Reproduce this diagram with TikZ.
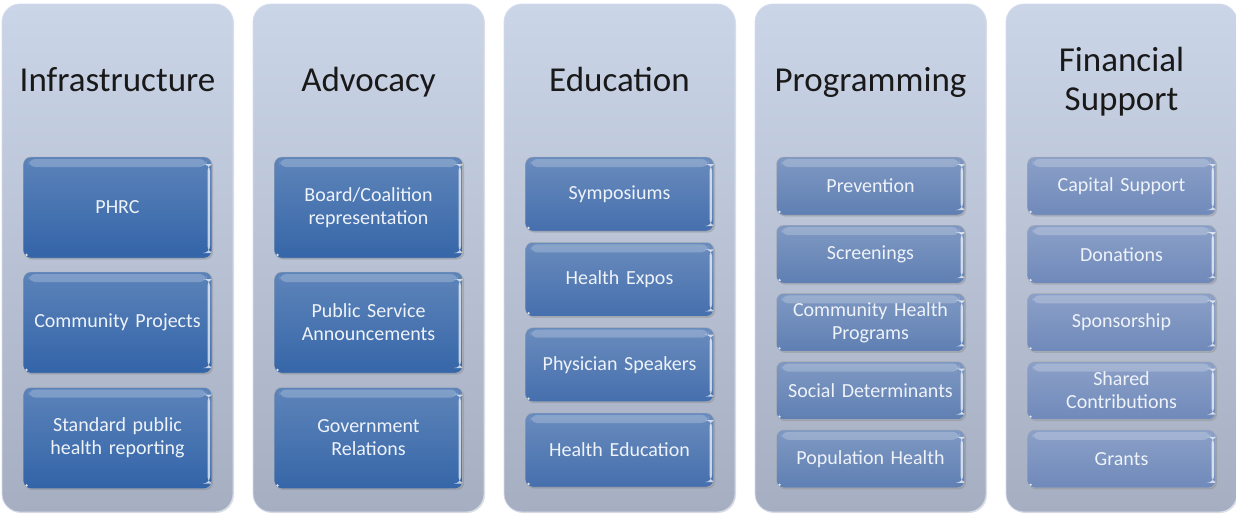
\documentclass[tikz,border=0pt]{standalone}
\usepackage{fontspec}
\setmainfont{Carlito}
\usepackage{tikz}
\usetikzlibrary{shadows}
\definecolor{colTop}{HTML}{CBD5E8}
\definecolor{colBot}{HTML}{A6AFC1}
\definecolor{blueA}{HTML}{3364A8}
\definecolor{blueB}{HTML}{3666A8}
\definecolor{blueC}{HTML}{456FAD}
\definecolor{blueD}{HTML}{5F7FB3}
\definecolor{blueE}{HTML}{6F89BA}
\definecolor{itemText}{HTML}{EEF2F9}

\begin{document}
\begin{tikzpicture}[x=1pt, y=-1pt,
    column/.style={rounded corners=18pt, minimum width=231pt, minimum height=508pt,
        top color=colTop, bottom color=colBot, draw=colTop!80!white, line width=0.8pt,
        drop shadow={opacity=0.25, shadow xshift=1pt, shadow yshift=-1pt}},
    title/.style={font=\fontsize{35}{39}\selectfont, align=center, text=black!90, anchor=base},
    item/.style={rounded corners=7pt, minimum width=188pt, minimum height=#1,
        text width=180pt, align=center, inner sep=0pt,
        font=\fontsize{20}{23}\selectfont, text=itemText, draw=black!30, line width=0.4pt,
        drop shadow={opacity=0.35, shadow xshift=1.5pt, shadow yshift=-1.5pt},
        path picture={
          \fill[white, opacity=0.22] ([xshift=5pt, yshift=-2pt]path picture bounding box.north west)
              rectangle ([xshift=-5pt, yshift=-10pt]path picture bounding box.north east);
          \fill[white, opacity=0.7] ([xshift=-4pt, yshift=-7pt]path picture bounding box.north east)
              rectangle ([xshift=-1.5pt, yshift=5pt]path picture bounding box.south east);
          \fill[white, opacity=0.8] ([xshift=3pt, yshift=3pt]path picture bounding box.south west)
              circle (1.3pt);}},
    shade/.style={top color=#1!80!white, bottom color=#1}
  ]
    \useasboundingbox (0,0) rectangle (1236,514);

    % the five columns
    \node[column] (infra) at (117.5,258) {};
    \node[column] (advo) at (368.5,258) {};
    \node[column] (edu) at (619.5,258) {};
    \node[column] (prog) at (870.5,258) {};
    \node[column] (fin) at (1121.5,258) {};

    \node[title] (infraT) at (117.5,91) {Infrastructure};
    \node[title] (advoT) at (368.5,91) {Advocacy};
    \node[title] (eduT) at (619.5,91) {Education};
    \node[title] (progT) at (870.5,91) {Programming};
    \node[title] (finT) at (1121.5,110) {Financial\\Support};

    \node[item=101pt, shade=blueA] (phrc) at (117.5,207.5) {PHRC};
    \node[item=101pt, shade=blueA] (proj) at (117.5,322.5) {Community Projects};
    \node[item=101pt, shade=blueA] (report) at (117.5,438) {Standard public\\health reporting};

    \node[item=101pt, shade=blueB] (board) at (368.5,207.5) {Board/Coalition\\representation};
    \node[item=101pt, shade=blueB] (psa) at (368.5,322.5) {Public Service\\Announcements};
    \node[item=101pt, shade=blueB] (gov) at (368.5,438) {Government\\Relations};

    \node[item=74pt, shade=blueC] (symp) at (619.5,194) {Symposiums};
    \node[item=74pt, shade=blueC] (expo) at (619.5,279.3) {Health Expos};
    \node[item=74pt, shade=blueC] (phys) at (619.5,364.7) {Physician Speakers};
    \node[item=74pt, shade=blueC] (heduc) at (619.5,450) {Health Education};

    \node[item=58pt, shade=blueD] (prev) at (870.5,186) {Prevention};
    \node[item=58pt, shade=blueD] (screen) at (870.5,254.2) {Screenings};
    \node[item=58pt, shade=blueD] (chp) at (870.5,322.4) {Community Health\\Programs};
    \node[item=58pt, shade=blueD] (social) at (870.5,390.6) {Social Determinants};
    \node[item=58pt, shade=blueD] (pop) at (870.5,458.8) {Population Health};

    \node[item=58pt, shade=blueE] (capital) at (1121.5,186) {Capital Support};
    \node[item=58pt, shade=blueE] (donat) at (1121.5,254.2) {Donations};
    \node[item=58pt, shade=blueE] (spons) at (1121.5,322.4) {Sponsorship};
    \node[item=58pt, shade=blueE] (shared) at (1121.5,390.6) {Shared\\Contributions};
    \node[item=58pt, shade=blueE] (grants) at (1121.5,458.8) {Grants};
\end{tikzpicture}
\end{document}
